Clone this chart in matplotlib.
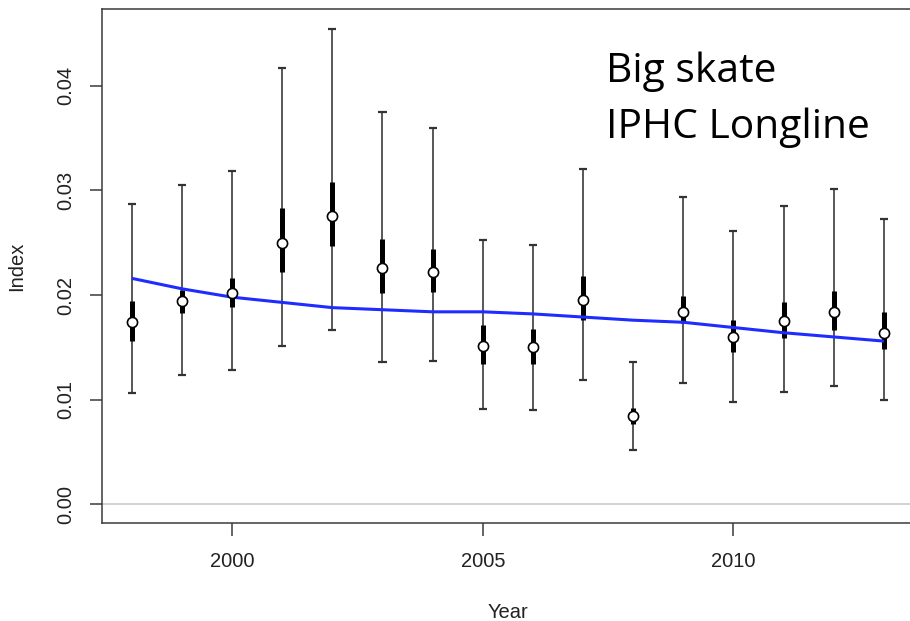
import matplotlib
matplotlib.use("Agg")
import matplotlib.pyplot as plt

# Index estimates per survey year with 50% and 95% intervals, plus a smoothed trend
years = [1998, 1999, 2000, 2001, 2002, 2003, 2004, 2005, 2006, 2007,
         2008, 2009, 2010, 2011, 2012, 2013]
index = [0.0174, 0.0194, 0.0202, 0.0250, 0.0276, 0.0226, 0.0222, 0.0151,
         0.0150, 0.0195, 0.0084, 0.0184, 0.0160, 0.0175, 0.0184, 0.0164]
ci95_low = [0.0106, 0.0124, 0.0128, 0.0151, 0.0167, 0.0136, 0.0137, 0.0091,
            0.0090, 0.0119, 0.0052, 0.0116, 0.0098, 0.0107, 0.0113, 0.0100]
ci95_high = [0.0287, 0.0305, 0.0319, 0.0417, 0.0454, 0.0375, 0.0360, 0.0253,
             0.0248, 0.0321, 0.0136, 0.0294, 0.0261, 0.0285, 0.0301, 0.0273]
ci50_low = [0.0156, 0.0183, 0.0189, 0.0222, 0.0247, 0.0202, 0.0203, 0.0134,
            0.0134, 0.0176, 0.0077, 0.0173, 0.0146, 0.0159, 0.0167, 0.0148]
ci50_high = [0.0194, 0.0205, 0.0216, 0.0283, 0.0308, 0.0254, 0.0244, 0.0171,
             0.0168, 0.0218, 0.0092, 0.0199, 0.0176, 0.0193, 0.0204, 0.0184]
trend = [0.0216, 0.0206, 0.0198, 0.0193, 0.0188, 0.0186, 0.0184, 0.0184,
         0.0182, 0.0179, 0.0176, 0.0174, 0.0169, 0.0164, 0.0160, 0.0156]
yticks = [0.00, 0.01, 0.02, 0.03, 0.04]
xticks = [2000, 2005, 2010]
title_lines = ["Big skate", "IPHC Longline"]

plt.rcParams["font.family"] = ["Liberation Sans", "DejaVu Sans"]

fig = plt.figure(figsize=(9.1, 6.21), dpi=100)
ax = fig.add_axes([0.1118, 0.1578, 0.8925, 0.8277])

ax.axhline(0, color="#cfcfcf", lw=1.3, zorder=1)

# 95% whiskers with caps
ax.vlines(years, ci95_low, ci95_high, color="#4a4a4a", lw=1.3, zorder=2)
ax.hlines(ci95_low, [y - 0.08 for y in years], [y + 0.08 for y in years],
          color="#333333", lw=1.6, zorder=2)
ax.hlines(ci95_high, [y - 0.08 for y in years], [y + 0.08 for y in years],
          color="#333333", lw=1.6, zorder=2)
# 50% bars
ax.vlines(years, ci50_low, ci50_high, color="black", lw=3.6, zorder=3)

ax.plot(years, trend, color="#1f2cff", lw=2.2, zorder=4, solid_capstyle="butt")

ax.plot(years, index, "o", ms=7.3, mfc="white", mec="black", mew=1.2, zorder=5)

ax.set_xlim(1997.4, 2013.6)
ax.set_ylim(-0.00179, 0.04735)
ax.set_xticks(xticks)
ax.set_yticks(yticks)
ax.set_yticklabels([f"{v:.2f}" for v in yticks], rotation=90, va="center")

for s in ["left", "top", "bottom"]:
    ax.spines[s].set_color("#3a3a3a")
    ax.spines[s].set_linewidth(1.1)
ax.spines["right"].set_visible(False)

ax.tick_params(axis="both", direction="out", length=9, width=1.1,
               color="#3a3a3a", labelsize=14.5, labelcolor="#222222")
ax.tick_params(axis="x", pad=12)
ax.tick_params(axis="y", pad=10)

ax.set_xlabel("Year", fontsize=14.5, color="#222222", labelpad=23)
ax.set_ylabel("Index", fontsize=14.5, color="#222222", labelpad=22)

for i, line in enumerate(title_lines):
    fig.text(606 / 910, 1 - (82 + 56.5 * i) / 621, line,
             fontsize=29.3, family=["Open Sans", "DejaVu Sans"], color="black",
             ha="left", va="baseline")

fig.savefig("out.png", dpi=100)
